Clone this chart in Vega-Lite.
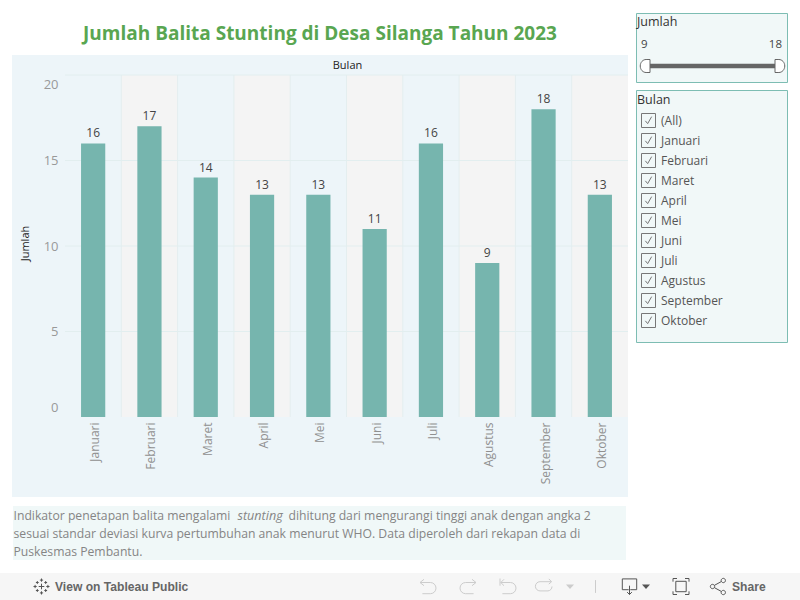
{
"$schema":"https://vega.github.io/schema/vega-lite/v6.json",
"padding":0,
"background":"#ffffff",
"config":{"view":{"stroke":null},"concat":{"spacing":0},"font":"Open Sans","axis":{"domain":false,"ticks":false,"grid":false}},
"vconcat":[
{"hconcat":[
 {"width":12,"height":10,"data":{"values":[]},"mark":{"type":"point","opacity":0},"encoding":{}},
 {"vconcat":[
  {"width":10,"height":25,"data":{"values":[]},"mark":{"type":"point","opacity":0},"encoding":{}},
  {"width":616,"height":442,
   "title":{"text":"Jumlah Balita Stunting di Desa Silanga Tahun 2023","anchor":"middle","frame":"group","color":"#59a651","fontSize":19,"fontWeight":"bold","font":"Open Sans","offset":11},
   "view":{"fill":"#edf5f9"},
   "data":{"values":[
    {"bulan":"Januari","jumlah":16},{"bulan":"Februari","jumlah":17},{"bulan":"Maret","jumlah":14},{"bulan":"April","jumlah":13},{"bulan":"Mei","jumlah":13},{"bulan":"Juni","jumlah":11},{"bulan":"Juli","jumlah":16},{"bulan":"Agustus","jumlah":9},{"bulan":"September","jumlah":18},{"bulan":"Oktober","jumlah":13}]},
   "encoding":{
    "x":{"field":"bulan","type":"nominal","sort":null,"title":"Bulan",
     "scale":{"type":"band","domain":["Januari","Februari","Maret","April","Mei","Juni","Juli","Agustus","September","Oktober"],"range":[53,616],"paddingInner":0,"paddingOuter":0},
     "axis":{"offset":-80,"labelAngle":270,"labelAlign":"right","labelBaseline":"middle","labelPadding":5,"labelOffset":2,"labelColor":"#909090","labelFontSize":12,"titleX":335,"titleY":-352,"titleBaseline":"middle","titleColor":"#222222","titleFontSize":11,"titleFontWeight":"normal"}}},
   "layer":[
    {"mark":{"type":"rect"},"encoding":{
      "y":{"datum":0,"type":"quantitative","scale":{"domain":[0,20],"range":[362,20]},"title":"Jumlah",
       "axis":{"values":[0,5,10,15,20],"offset":-46,"labelPadding":0,"labelFlush":true,"labelFlushOffset":-3,"labelColor":"#999999","labelFontSize":13,"titleX":-28,"titleY":188,"titleColor":"#222222","titleFontSize":11,"titleFontWeight":"normal"}},
      "y2":{"datum":20},
      "fill":{"condition":{"test":"indexof(['Februari','April','Juni','Agustus','Oktober'],datum.bulan)>=0","value":"#f4f4f4"},"value":"#edf5f9"}}},
    {"mark":{"type":"rule","color":"#e4eeef","strokeWidth":1},"transform":[{"filter":"datum.bulan!=='Januari'"}],"encoding":{
      "x":{"field":"bulan","type":"nominal","sort":null,"bandPosition":0},
      "y":{"datum":0,"type":"quantitative","title":"Jumlah"},"y2":{"datum":20}}},
    {"data":{"values":[{"garis":5},{"garis":10},{"garis":15},{"garis":20}]},
     "mark":{"type":"rule","color":"#e2eeef","strokeWidth":1},"encoding":{
      "x":{"datum":"Januari","type":"nominal","bandPosition":0},
      "x2":{"datum":"Oktober","bandPosition":1},
      "y":{"field":"garis","type":"quantitative","title":"Jumlah"}}},
    {"mark":{"type":"bar","color":"#76b5ae","width":{"band":0.43}},"encoding":{"y":{"field":"jumlah","type":"quantitative","title":"Jumlah"}}},
    {"mark":{"type":"text","color":"#444444","fontSize":12,"baseline":"bottom","dy":-3},"encoding":{"y":{"field":"jumlah","type":"quantitative","title":"Jumlah"},"text":{"field":"jumlah","type":"quantitative"}}}
   ]},
  {"width":10,"height":9,"data":{"values":[]},"mark":{"type":"point","opacity":0},"encoding":{}},
  {"hconcat":[
   {"width":1,"height":10,"data":{"values":[]},"mark":{"type":"point","opacity":0},"encoding":{}},
   {"width":613,"height":54,"view":{"fill":"#f0f8f8"},
    "data":{"values":[
     {"baris":1,"potongan":1,"teks":"Indikator penetapan balita mengalami"},
     {"baris":1,"potongan":2,"teks":"stunting"},
     {"baris":1,"potongan":3,"teks":"dihitung dari mengurangi tinggi anak dengan angka 2"},
     {"baris":2,"potongan":1,"teks":"sesuai standar deviasi kurva pertumbuhan anak menurut WHO. Data diperoleh dari rekapan data di"},
     {"baris":3,"potongan":1,"teks":"Puskesmas Pembantu."}]},
    "encoding":{
     "x":{"field":"potongan","type":"quantitative","scale":{"type":"linear","domain":[1,2,3],"range":[0.5,224.5,275.5],"zero":false,"nice":false},"axis":null},
     "y":{"field":"baris","type":"ordinal","scale":{"type":"point","domain":[1,2,3],"range":[10,46],"padding":0},"axis":null},
     "text":{"field":"teks","type":"nominal"}},
    "layer":[
     {"transform":[{"filter":"datum.potongan!==2"}],"mark":{"type":"text","align":"left","baseline":"middle","fontSize":12.2,"color":"#858585"}},
     {"transform":[{"filter":"datum.potongan===2"}],"mark":{"type":"text","align":"left","baseline":"middle","fontSize":12.6,"color":"#858585","fontStyle":"italic"}}
    ]}
  ]}
 ]},
 {"width":6,"height":10,"data":{"values":[]},"mark":{"type":"point","opacity":0},"encoding":{}},
 {"vconcat":[
  {"width":10,"height":12,"data":{"values":[]},"mark":{"type":"point","opacity":0},"encoding":{}},
  {"width":151,"height":69,
   "title":{"text":"Jumlah","anchor":"start","frame":"group","offset":-15,"dx":1,"fontSize":12.5,"fontWeight":"normal","color":"#333333","font":"Open Sans"},
   "view":{"fill":"#f1f8f8","stroke":"#7dbdb3","strokeWidth":1},
   "data":{"values":[{"jumlah":9},{"jumlah":18}]},
   "encoding":{"x":{"field":"jumlah","type":"quantitative","scale":{"domain":[9,18],"range":[14,139],"nice":false,"zero":false},"axis":null}},
   "layer":[
    {"mark":{"type":"line","color":"#666666","strokeWidth":4.5},"encoding":{"y":{"datum":"Slider","type":"ordinal","scale":{"type":"point","domain":["Nilai","Slider"],"range":[32,53],"padding":0},"axis":null}}},
    {"transform":[{"filter":"datum.jumlah===9"}],"mark":{"type":"point","filled":true,"fill":"#ffffff","stroke":"#666666","strokeWidth":1,"opacity":1,"size":169,"shape":"M0 -1 H-0.6 A0.9 1 0 0 0 -0.6 1 H0 Z"},"encoding":{"y":{"datum":"Slider","type":"ordinal"}}},
    {"transform":[{"filter":"datum.jumlah===18"}],"mark":{"type":"point","filled":true,"fill":"#ffffff","stroke":"#666666","strokeWidth":1,"opacity":1,"size":169,"shape":"M0 -1 H0.6 A0.9 1 0 0 1 0.6 1 H0 Z"},"encoding":{"y":{"datum":"Slider","type":"ordinal"}}},
    {"transform":[{"filter":"datum.jumlah===9"}],"mark":{"type":"text","align":"left","baseline":"middle","dx":-9,"fontSize":11.5,"color":"#444444"},"encoding":{"y":{"datum":"Nilai","type":"ordinal"},"text":{"field":"jumlah","type":"quantitative"}}},
    {"transform":[{"filter":"datum.jumlah===18"}],"mark":{"type":"text","align":"right","baseline":"middle","dx":7,"fontSize":11.5,"color":"#444444"},"encoding":{"y":{"datum":"Nilai","type":"ordinal"},"text":{"field":"jumlah","type":"quantitative"}}}
   ]},
  {"width":10,"height":6,"data":{"values":[]},"mark":{"type":"point","opacity":0},"encoding":{}},
  {"width":151,"height":252,
   "title":{"text":"Bulan","anchor":"start","frame":"group","offset":-16,"dx":1,"fontSize":12.5,"fontWeight":"normal","color":"#333333","font":"Open Sans"},
   "view":{"fill":"#f1f8f8","stroke":"#7dbdb3","strokeWidth":1},
   "data":{"values":[{"pilihan":"(All)"},{"pilihan":"Januari"},{"pilihan":"Februari"},{"pilihan":"Maret"},{"pilihan":"April"},{"pilihan":"Mei"},{"pilihan":"Juni"},{"pilihan":"Juli"},{"pilihan":"Agustus"},{"pilihan":"September"},{"pilihan":"Oktober"}]},
   "encoding":{"y":{"field":"pilihan","type":"ordinal","sort":null,"scale":{"type":"point","range":[30.5,230.5],"padding":0},"axis":null}},
   "layer":[
    {"mark":{"type":"point","shape":"square","size":196,"filled":false,"stroke":"#777777","strokeWidth":1,"opacity":1},"encoding":{"x":{"datum":"Kotak","type":"ordinal","scale":{"type":"point","domain":["Kotak","Label"],"range":[12.5,25],"padding":0},"axis":null}}},
    {"mark":{"type":"point","shape":"M-0.45 0.05 L-0.12 0.45 L0.45 -0.55","size":196,"filled":false,"stroke":"#777777","strokeWidth":1,"opacity":1},"encoding":{"x":{"datum":"Kotak","type":"ordinal"}}},
    {"mark":{"type":"text","align":"left","baseline":"middle","fontSize":12,"color":"#555555"},"encoding":{"x":{"datum":"Label","type":"ordinal"},"text":{"field":"pilihan","type":"nominal"}}}
   ]}
 ]}
]},
{"width":10,"height":13,"data":{"values":[]},"mark":{"type":"point","opacity":0},"encoding":{}},
{"width":800,"height":27,"view":{"fill":"#f6f6f6"},
 "data":{"values":[
  {"urutan":1,"elemen":"logo"},{"urutan":3,"elemen":"undo"},{"urutan":4,"elemen":"redo"},{"urutan":5,"elemen":"revert"},{"urutan":6,"elemen":"refresh"},{"urutan":7,"elemen":"caret1"},{"urutan":8,"elemen":"pemisah"},{"urutan":9,"elemen":"unduh"},{"urutan":10,"elemen":"caret2"},{"urutan":11,"elemen":"layar"},{"urutan":12,"elemen":"bagikan"},
  {"urutan":2,"elemen":"teks1","teks":"View on Tableau Public"},{"urutan":13,"elemen":"teks2","teks":"Share"}]},
 "encoding":{
  "x":{"field":"urutan","type":"quantitative","scale":{"type":"linear","domain":[1,2,3,4,5,6,7,8,9,10,11,12,13],"range":[41.5,55,428,468,508,544,570,595.5,629.5,646,681,718.5,732],"zero":false,"nice":false},"axis":null}},
 "layer":[
  {"transform":[{"filter":"indexof(['logo','undo','redo','revert','refresh','pemisah','unduh','layar','bagikan'],datum.elemen)>=0"}],
   "mark":{"type":"point","filled":false,"size":256,"strokeWidth":1,"opacity":1},
   "encoding":{
    "stroke":{"condition":{"test":"indexof(['undo','redo','revert','refresh','pemisah'],datum.elemen)>=0","value":"#cccccc"},"value":"#555555"},
    "shape":{"field":"elemen","type":"nominal","legend":null,"scale":{"domain":["undo","redo","revert","refresh","pemisah","logo","unduh","layar","bagikan"],"range":[
     "M-0.5 -0.9 L-1 -0.5 L-0.5 -0.1 M-1 -0.5 H0.3 A0.7 0.7 0 0 1 0.3 0.9 H-0.7",
     "M0.5 -0.9 L1 -0.5 L0.5 -0.1 M1 -0.5 H-0.3 A0.7 0.7 0 0 0 -0.3 0.9 H0.7",
     "M-1 -1 V-0.1 M-0.5 -0.9 L-0.9 -0.5 L-0.5 -0.1 M-0.9 -0.5 H0.3 A0.7 0.7 0 0 1 0.3 0.9 H-0.7",
     "M0.9 -0.6 H-0.5 A0.55 0.55 0 0 0 -0.5 0.55 H0.5 A0.55 0.55 0 0 0 1 0 M0.6 -0.95 L0.95 -0.6 L0.6 -0.3",
     "M0 -0.8 V0.8",
     "M-0.35 0 H0.35 M0 -0.35 V0.35 M-0.2 -0.8 H0.2 M0 -1 V-0.6 M-0.2 0.8 H0.2 M0 1 V0.6 M-1 0 H-0.6 M-0.8 -0.2 V0.2 M1 0 H0.6 M0.8 -0.2 V0.2 M-0.7 -0.5 H-0.35 M-0.52 -0.68 V-0.32 M0.7 -0.5 H0.35 M0.52 -0.68 V-0.32 M-0.7 0.5 H-0.35 M-0.52 0.68 V0.32 M0.7 0.5 H0.35 M0.52 0.68 V0.32",
     "M-0.1 0.4 H-0.9 V-0.95 H0.9 V0.4 H0.1 M0 -0.1 V1 M-0.3 0.7 L0 1 L0.3 0.7",
     "M-1 -0.6 V-1 H-0.5 M0.5 -1 H1 V-0.6 M1 0.6 V1 H0.5 M-0.5 1 H-1 V0.6 M-0.65 -0.65 H0.65 V0.65 H-0.65 Z",
     "M-0.48 0 A0.27 0.27 0 1 1 -1.02 0 A0.27 0.27 0 1 1 -0.48 0 M0.87 -0.75 A0.27 0.27 0 1 1 0.33 -0.75 A0.27 0.27 0 1 1 0.87 -0.75 M0.87 0.75 A0.27 0.27 0 1 1 0.33 0.75 A0.27 0.27 0 1 1 0.87 0.75 M-0.52 -0.14 L0.36 -0.62 M-0.52 0.14 L0.36 0.62"]}}}},
  {"transform":[{"filter":"datum.elemen==='caret1'"}],"mark":{"type":"point","filled":true,"size":64,"fill":"#cccccc","opacity":1,"shape":"M-1 -0.5 H1 L0 0.6 Z"}},
  {"transform":[{"filter":"datum.elemen==='caret2'"}],"mark":{"type":"point","filled":true,"size":64,"fill":"#555555","opacity":1,"shape":"M-1 -0.5 H1 L0 0.6 Z"}},
  {"transform":[{"filter":"isValid(datum.teks)"}],"mark":{"type":"text","align":"left","baseline":"middle","font":"Liberation Sans","fontWeight":"bold","fontSize":12.1,"color":"#666666"},"encoding":{"text":{"field":"teks","type":"nominal"}}}
 ]}
]
}
